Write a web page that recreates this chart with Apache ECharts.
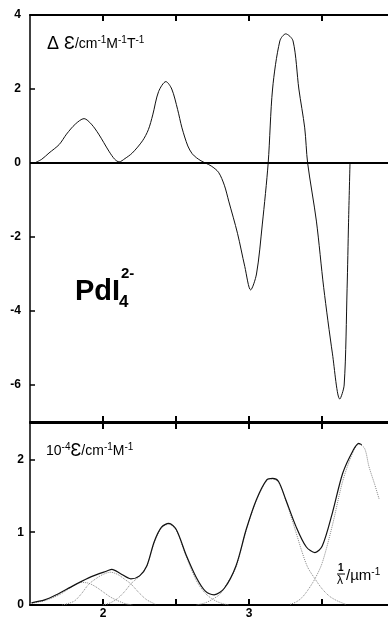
<!DOCTYPE html>
<html>
<head>
<meta charset="utf-8">
<script src="https://cdn.jsdelivr.net/npm/echarts@6.0.0/dist/echarts.min.js"></script>
<style>
html, body {margin: 0; padding: 0; background: #fff;}
#chart {width: 388px; height: 620px;}
</style>
</head>
<body>
<div id="chart"></div>
<script>
// wavenumber axis, 1/lambda in um^-1
const xTicks = [2, 2.5, 3, 3.5]
const xLabels = [2, 3]
const mcdTicks = [-6, -4, -2, 0, 2, 4]
const absTicks = [0, 1, 2]

// MCD spectrum (top)
const mcdX = [1.53, 1.58, 1.63, 1.70, 1.75, 1.81, 1.87, 1.92, 1.97, 2.04, 2.08, 2.11, 2.15, 2.20, 2.27, 2.31, 2.34, 2.38, 2.43, 2.47, 2.51, 2.54, 2.58, 2.61, 2.64, 2.67, 2.70, 2.74, 2.79, 2.83, 2.86, 2.92, 2.97, 3.01, 3.05, 3.09, 3.13, 3.16, 3.21, 3.25, 3.30, 3.34, 3.38, 3.40, 3.46, 3.51, 3.57, 3.62, 3.65, 3.67, 3.68, 3.69]
const mcdY = [0, 0.1, 0.27, 0.5, 0.78, 1.05, 1.2, 1.05, 0.78, 0.32, 0.1, 0.03, 0.12, 0.27, 0.6, 0.9, 1.3, 1.93, 2.2, 2.0, 1.45, 0.95, 0.46, 0.25, 0.14, 0.06, 0, -0.08, -0.25, -0.6, -1.03, -1.9, -2.8, -3.43, -3.0, -1.65, 0, 2.0, 3.3, 3.49, 3.3, 2.0, 0.95, 0, -1.57, -3.37, -5.16, -6.38, -6.0, -3.4, -1.6, 0]

// absorption spectrum (bottom), 10^-4 eps
const absX = [1.51, 1.60, 1.68, 1.80, 1.92, 2.03, 2.06, 2.12, 2.19, 2.25, 2.30, 2.35, 2.40, 2.45, 2.50, 2.57, 2.64, 2.70, 2.76, 2.83, 2.91, 2.98, 3.05, 3.12, 3.16, 3.20, 3.25, 3.32, 3.39, 3.45, 3.50, 3.57, 3.64, 3.71, 3.75, 3.77]
const absY = [0.03, 0.07, 0.14, 0.27, 0.39, 0.47, 0.49, 0.43, 0.36, 0.40, 0.54, 0.87, 1.07, 1.12, 1.04, 0.68, 0.37, 0.19, 0.14, 0.23, 0.54, 1.04, 1.45, 1.72, 1.74, 1.70, 1.45, 1.08, 0.80, 0.72, 0.81, 1.27, 1.81, 2.12, 2.22, 2.20]

// gaussian components (dotted)
const bandAX = [1.50, 1.60, 1.70, 1.78, 1.85, 1.90, 1.95, 2.00, 2.05, 2.10, 2.15, 2.20]
const bandAY = [0.02, 0.06, 0.14, 0.24, 0.31, 0.30, 0.25, 0.18, 0.11, 0.06, 0.02, 0]
const bandBX = [1.72, 1.80, 1.85, 1.90, 1.95, 2.00, 2.05, 2.10, 2.15, 2.19, 2.25, 2.30, 2.36]
const bandBY = [0, 0.05, 0.15, 0.28, 0.36, 0.42, 0.45, 0.42, 0.35, 0.29, 0.16, 0.07, 0.01]
const bandCX = [2.00, 2.05, 2.10, 2.15, 2.19, 2.25, 2.30, 2.35, 2.40, 2.45, 2.50, 2.57, 2.64, 2.70, 2.75, 2.80, 2.86]
const bandCY = [0, 0.03, 0.09, 0.19, 0.29, 0.40, 0.54, 0.85, 1.06, 1.11, 1.03, 0.66, 0.33, 0.16, 0.08, 0.03, 0]
const bandDX = [2.64, 2.70, 2.75, 2.80, 2.85, 2.91, 2.98, 3.05, 3.12, 3.16, 3.20, 3.25, 3.32, 3.36, 3.40, 3.45, 3.50, 3.55, 3.60, 3.66]
const bandDY = [0, 0.03, 0.08, 0.15, 0.30, 0.52, 1.03, 1.44, 1.71, 1.73, 1.69, 1.44, 1.0, 0.74, 0.52, 0.36, 0.22, 0.12, 0.06, 0.01]
const bandEX = [3.28, 3.32, 3.36, 3.40, 3.45, 3.50, 3.57, 3.64, 3.71, 3.75, 3.79, 3.82, 3.86, 3.89]
const bandEY = [0.01, 0.04, 0.1, 0.2, 0.36, 0.58, 1.1, 1.7, 2.1, 2.21, 2.15, 1.9, 1.65, 1.45]

const FONT = 'Liberation Sans, Arial, sans-serif'

function zip(xs, ys) {
    return xs.map((x, i) => [x, ys[i]])
}

function xAxis(gridIndex, position, showLabels) {
    return {
        type: 'value', gridIndex: gridIndex, position: position,
        min: 1.5, max: 3.95, interval: 0.5,
        axisLine: {onZero: false, lineStyle: {color: '#000', width: 2}},
        axisTick: {inside: true, length: 6, customValues: xTicks, lineStyle: {color: '#000', width: 2}},
        axisLabel: {
            show: showLabels, customValues: xLabels, margin: 3,
            color: '#000', fontSize: 12, fontWeight: 'bold', fontFamily: FONT
        },
        splitLine: {show: false}
    }
}

function yAxis(gridIndex, min, max, ticks, margin) {
    return {
        type: 'value', gridIndex: gridIndex, min: min, max: max,
        axisLine: {show: true, lineStyle: {color: '#000', width: 1.5}},
        axisTick: {show: true, inside: true, length: 5, customValues: ticks, lineStyle: {color: '#000', width: 1.5}},
        axisLabel: {
            customValues: ticks, margin: margin,
            color: '#000', fontSize: 12, fontWeight: 'bold', fontFamily: FONT
        },
        splitLine: {show: false}
    }
}

function band(xs, ys) {
    return {
        type: 'line', xAxisIndex: 3, yAxisIndex: 1,
        data: zip(xs, ys), smooth: 0.3, symbol: 'none', silent: true,
        lineStyle: {color: '#888', width: 1, type: 'dotted'}
    }
}

const sup = {fontSize: 10, fontFamily: FONT, verticalAlign: 'top', padding: [0, 0, 7, 0], fill: '#000'}
const labelRich = {
    big: {fontSize: 18, fontFamily: FONT, fill: '#000'},
    n: {fontSize: 14, fontFamily: FONT, fill: '#000'},
    s: sup
}

let chart = echarts.init(document.getElementById('chart'))
chart.setOption({
    animation: false,
    backgroundColor: '#fff',
    grid: [
        {left: 30, right: 0, top: 15, height: 407},
        {left: 30, right: 0, top: 423, bottom: 13}
    ],
    xAxis: [
        xAxis(0, 'bottom', false),
        xAxis(0, 'top', false),
        xAxis(1, 'top', false),
        xAxis(1, 'bottom', true)
    ],
    yAxis: [
        yAxis(0, -7, 4, mcdTicks, 9),
        yAxis(1, 0, 2.5, absTicks, 6)
    ],
    series: [
        {
            type: 'line', xAxisIndex: 0, yAxisIndex: 0,
            data: zip(mcdX, mcdY), smooth: 0.3, symbol: 'none',
            lineStyle: {color: '#111', width: 1},
            markLine: {
                silent: true, symbol: 'none', label: {show: false},
                lineStyle: {color: '#000', width: 2, type: 'solid'},
                data: [{yAxis: 0}]
            }
        },
        band(bandAX, bandAY),
        band(bandBX, bandBY),
        band(bandCX, bandCY),
        band(bandDX, bandDY),
        band(bandEX, bandEY),
        {
            type: 'line', xAxisIndex: 3, yAxisIndex: 1,
            data: zip(absX, absY), smooth: 0.3, symbol: 'none',
            lineStyle: {color: '#111', width: 1.2}
        }
    ],
    graphic: [
        {
            type: 'text', left: 47, top: 35,
            style: {rich: labelRich, text: '{big|Δ Ɛ}{n|/cm}{s|-1}{n|M}{s|-1}{n|T}{s|-1}'}
        },
        {
            type: 'text', left: 46, top: 442,
            style: {rich: labelRich, text: '{n|10}{s|-4}{big|Ɛ}{n|/cm}{s|-1}{n|M}{s|-1}'}
        },
        {
            type: 'text', left: 75, top: 277,
            style: {text: 'PdI', fontSize: 29, fontWeight: 'bold', fontFamily: FONT, fill: '#000'}
        },
        {
            type: 'text', left: 119, top: 294,
            style: {text: '4', fontSize: 17, fontWeight: 'bold', fontFamily: FONT, fill: '#000'}
        },
        {
            type: 'text', left: 121, top: 266,
            style: {text: '2-', fontSize: 15, fontWeight: 'bold', fontFamily: FONT, fill: '#000'}
        },
        {
            type: 'text', left: 338, top: 563,
            style: {text: '1', fontSize: 10, fontWeight: 'bold', fontFamily: FONT, fill: '#000'}
        },
        {
            type: 'line', shape: {x1: 337, y1: 574, x2: 345, y2: 574},
            style: {stroke: '#000', lineWidth: 1}
        },
        {
            type: 'text', left: 337, top: 575,
            style: {text: 'λ', fontSize: 12, fontFamily: FONT, fill: '#000'}
        },
        {
            type: 'text', left: 346, top: 567,
            style: {
                rich: {
                    n: {fontSize: 15, fontFamily: FONT, fill: '#000'},
                    s: sup
                },
                text: '{n|/µm}{s|-1}'
            }
        }
    ]
})
</script>
</body>
</html>
